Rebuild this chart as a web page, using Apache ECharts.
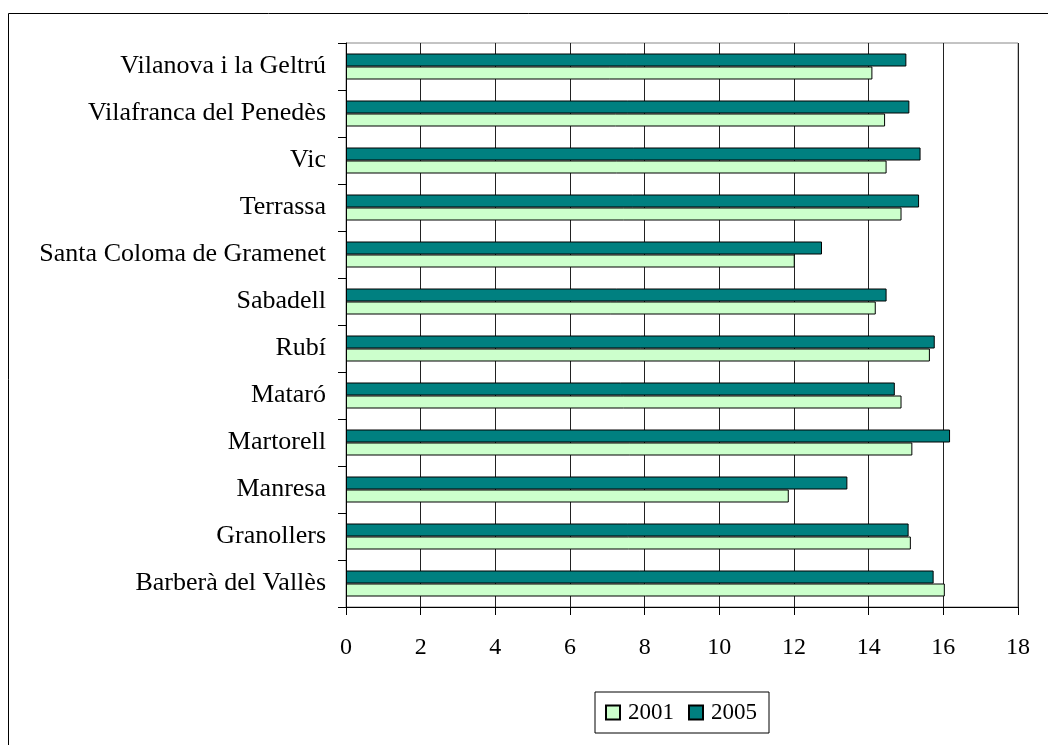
<!DOCTYPE html>
<html lang="ca" style="height: 100%">

<head>
    <meta charset="utf-8">
</head>

<body style="height: 100%; margin: 0; background: #fff">
    <div id="container" style="width: 1048px; height: 745px"></div>
    <script type="text/javascript" src="https://fastly.jsdelivr.net/npm/echarts@6.0.0/dist/echarts.min.js"></script>
    <script type="text/javascript">
    // municipis, de baix a dalt
    const municipis = ['Barberà del Vallès', 'Granollers', 'Manresa', 'Martorell', 'Mataró', 'Rubí',
        'Sabadell', 'Santa Coloma de Gramenet', 'Terrassa', 'Vic', 'Vilafranca del Penedès', 'Vilanova i la Geltrú'];
    const valors2001 = [16.04, 15.13, 11.86, 15.17, 14.88, 15.64, 14.19, 12.02, 14.88, 14.48, 14.44, 14.10];
    const valors2005 = [15.74, 15.07, 13.43, 16.18, 14.70, 15.77, 14.48, 12.75, 15.35, 15.39, 15.09, 15.01];
    const ticksX = { min: 0, max: 18, interval: 2 };

    const serif = 'Liberation Serif, Times New Roman, serif';

    var dom = document.getElementById('container');
    var myChart = echarts.init(dom, null, { renderer: 'canvas' });
    var option;

    option = {
        animation: false,
        backgroundColor: '#fff',
        graphic: [{
            type: 'rect',
            shape: { x: 8.5, y: 13.5, width: 1100, height: 800 },
            style: { fill: 'none', stroke: '#000', lineWidth: 1 },
            silent: true
        }],
        legend: {
            left: 595,
            top: 692,
            orient: 'horizontal',
            data: ['2001', '2005'],
            icon: 'rect',
            itemWidth: 14,
            itemHeight: 14,
            itemGap: 14,
            padding: [9, 12, 9, 10],
            borderColor: '#000',
            borderWidth: 1,
            textStyle: {
                fontFamily: serif,
                fontSize: 23,
                color: '#000',
                padding: [2, 0, 0, 3]
            }
        },
        grid: {
            left: 346,
            right: 30,
            top: 43,
            bottom: 138,
            show: true,
            borderColor: '#888',
            borderWidth: 1,
            containLabel: false
        },
        xAxis: {
            type: 'value',
            min: ticksX.min,
            max: ticksX.max,
            interval: ticksX.interval,
            axisLine: { show: true, lineStyle: { color: '#000', width: 1 } },
            axisTick: { show: true, length: 8, lineStyle: { color: '#000' } },
            splitLine: { show: true, lineStyle: { color: '#222', width: 1 } },
            axisLabel: {
                margin: 29,
                fontFamily: serif,
                fontSize: 24,
                color: '#000'
            }
        },
        yAxis: {
            type: 'category',
            data: municipis,
            axisLine: { show: true, lineStyle: { color: '#000', width: 1 } },
            axisTick: { show: true, length: 8, lineStyle: { color: '#000' } },
            axisLabel: {
                margin: 20,
                fontFamily: serif,
                fontSize: 26,
                color: '#000',
                padding: [8, 0, 0, 0]
            }
        },
        series: [{
                name: '2005',
                type: 'bar',
                data: valors2005,
                barWidth: 13,
                barGap: '0%',
                itemStyle: { color: '#008080', borderColor: '#000', borderWidth: 1 }
            },
            {
                name: '2001',
                type: 'bar',
                data: valors2001,
                barWidth: 13,
                barGap: '0%',
                itemStyle: { color: '#ccffcc', borderColor: '#000', borderWidth: 1 }
            }
        ]
    };

    myChart.setOption(option);
    </script>
</body>

</html>
